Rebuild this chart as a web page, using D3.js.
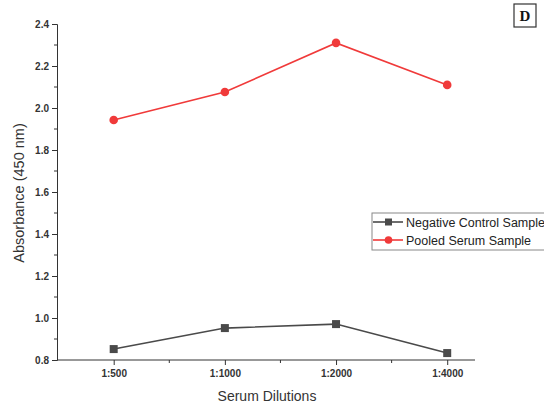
<!DOCTYPE html>
<html><head><meta charset="utf-8">
<script src="https://cdn.jsdelivr.net/npm/d3@7"></script>
<style>body{margin:0;background:#fff}svg{display:block}</style>
</head><body>
<svg id="c" width="544" height="406" font-family="Liberation Sans, Arial, sans-serif"></svg>
<script>
const categories = ["1:500","1:1000","1:2000","1:4000"];
const negativeControl = [0.852, 0.952, 0.971, 0.833];
const pooledSerum = [1.943, 2.076, 2.31, 2.11];
const yTicks = [0.8,1.0,1.2,1.4,1.6,1.8,2.0,2.2,2.4];
const seriesNames = ["Negative Control Sample","Pooled Serum Sample"];

const svg = d3.select("#c");
const x = d3.scaleLinear().domain([-0.51, 3.25]).range([57, 475]);
const y = d3.scaleLinear().domain([0.8, 2.4]).range([360, 24]);

// y axis
const yAxis = d3.axisLeft(y).tickValues(yTicks).tickFormat(d3.format(".1f")).tickSize(5).tickPadding(3);
const gy = svg.append("g").attr("transform","translate(57,0)").call(yAxis);
gy.attr("font-family",null);
gy.selectAll(".tick text").attr("font-size",10).attr("font-weight","bold").attr("fill","#333");
gy.selectAll("line,path").attr("stroke","#333");
const yMinor = d3.range(0.9, 2.4, 0.2);
gy.selectAll(".minor").data(yMinor).enter().append("line")
  .attr("x1",0).attr("x2",-3).attr("y1",d=>y(d)).attr("y2",d=>y(d)).attr("stroke","#333");

// x axis
const xAxis = d3.axisBottom(x).tickValues([0,1,2,3]).tickFormat(i=>categories[i]).tickSize(5).tickPadding(5);
const gx = svg.append("g").attr("transform","translate(0,360)").call(xAxis);
gx.attr("font-family",null);
gx.select("path").attr("d","M57,0H475");
gx.selectAll(".tick text").attr("font-size",10).attr("font-weight","bold").attr("fill","#333");
gx.selectAll("line,path").attr("stroke","#333");
gx.selectAll(".minor").data([0.5,1.5,2.5]).enter().append("line")
  .attr("x1",d=>x(d)).attr("x2",d=>x(d)).attr("y1",0).attr("y2",3).attr("stroke","#333");

// titles
svg.append("text").attr("x",267).attr("y",401).attr("text-anchor","middle").attr("font-size",14).attr("fill","#333").text("Serum Dilutions");
svg.append("text").attr("transform","translate(24,193) rotate(-90)").attr("text-anchor","middle").attr("font-size",14.5).attr("fill","#333").text("Absorbance (450 nm)");

const line = d3.line().x((d,i)=>x(i)).y(d=>y(d));
const black = "#4a4a4a", red = "#f03a3a";
svg.append("path").datum(negativeControl).attr("d",line).attr("fill","none").attr("stroke",black).attr("stroke-width",1.6);
svg.selectAll(".sq").data(negativeControl).enter().append("rect")
  .attr("x",(d,i)=>x(i)-4).attr("y",d=>y(d)-4).attr("width",8).attr("height",8).attr("fill",black);
svg.append("path").datum(pooledSerum).attr("d",line).attr("fill","none").attr("stroke",red).attr("stroke-width",1.6);
svg.selectAll(".ci").data(pooledSerum).enter().append("circle")
  .attr("cx",(d,i)=>x(i)).attr("cy",d=>y(d)).attr("r",4.3).attr("fill",red);

// legend
const lg = svg.append("g");
lg.append("rect").attr("x",372).attr("y",213).attr("width",180).attr("height",37).attr("fill","#fff").attr("stroke","#888").attr("stroke-width",1);
const cols=[black,red];
seriesNames.forEach((n,i)=>{
  const yy = 222 + i*18;
  lg.append("line").attr("x1",373).attr("x2",403).attr("y1",yy).attr("y2",yy).attr("stroke",cols[i]).attr("stroke-width",1.6);
  if(i===0) lg.append("rect").attr("x",385).attr("y",yy-3.5).attr("width",7).attr("height",7).attr("fill",cols[i]);
  else lg.append("circle").attr("cx",388.5).attr("cy",yy).attr("r",3.8).attr("fill",cols[i]);
  lg.append("text").attr("x",406).attr("y",yy+4.5).attr("font-size",12.5).attr("fill","#222").text(n);
});

// panel label
svg.append("rect").attr("x",514).attr("y",4).attr("width",22).attr("height",23).attr("fill","#fff").attr("stroke","#333").attr("stroke-width",1.2);
svg.append("text").attr("x",525).attr("y",21).attr("text-anchor","middle").attr("font-family","Liberation Serif, serif").attr("font-weight","bold").attr("font-size",15).attr("fill","#111").text("D");
</script>
</body></html>
